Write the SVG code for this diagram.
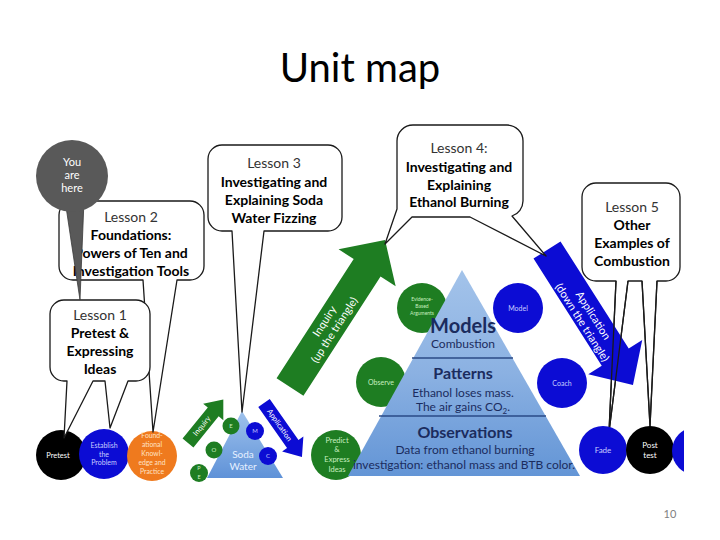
<svg xmlns="http://www.w3.org/2000/svg" width="720" height="540" viewBox="0 0 720 540">
<style>
.co{fill:#fff;stroke:#1a1a1a;stroke-width:1.3;stroke-linejoin:round}
.tl{fill:none;stroke:#1a1a1a;stroke-width:1.3;stroke-linejoin:round}
.t{font-family:Lato,"Open Sans","Liberation Sans",sans-serif;text-anchor:middle}
.ct{font-size:14px}
.b{font-weight:bold;fill:#000}
.r{fill:#333}
.gf{fill:#1e7d22}
.bf{fill:#0c0cd4}
.gt{fill:#c8f0c0}
.bt{fill:#c8ccff}
.wt{fill:#fff}
.pt{fill:#1b2c5e}
.div{stroke:#2a4a86;stroke-width:1.6}
</style>
<defs>
<linearGradient id="pyr" x1="0" y1="0" x2="0" y2="1">
<stop offset="0" stop-color="#a3c3ea"/>
<stop offset="0.5" stop-color="#8bb1e2"/>
<stop offset="1" stop-color="#6395d6"/>
</linearGradient>
<linearGradient id="soda" x1="0" y1="0" x2="0" y2="1">
<stop offset="0" stop-color="#9fc2ec"/>
<stop offset="1" stop-color="#5f92d8"/>
</linearGradient>
<clipPath id="rc"><rect x="0" y="0" width="684" height="540"/></clipPath>
</defs>
<rect width="720" height="540" fill="#fff"/>

<text class="t" x="360" y="82" font-size="40" fill="#000">Unit map</text>

<!-- lesson 5 callout sits under the application arrow -->
<g id="lesson5">
<path class="co" d="M596,183 H666 A14,14 0 0 1 680,197 V267 A14,14 0 0 1 666,281 H657 L650,426 L642,281 H628 L609,432 L616,281 H596 A14,14 0 0 1 582,267 V197 A14,14 0 0 1 596,183 Z"/>
<text class="t ct r" x="632" y="212">Lesson 5</text>
<text class="t ct b" x="632" y="230">Other</text>
<text class="t ct b" x="632" y="248">Examples of</text>
<text class="t ct b" x="632" y="266">Combustion</text>
</g>

<!-- connectors: arrows -->
<g id="connectors">
<g id="inquiry-big" transform="translate(290,387) rotate(-57.1)">
<path class="gf" d="M0,-16 H142 V-34 L175,0 L142,34 V16 H0 Z"/>
<text class="t wt" x="74" y="-3" font-size="11">Inquiry</text>
<text class="t wt" x="72" y="10" font-size="11">(up the triangle)</text>
</g>
<g id="application-big" transform="translate(547,250) rotate(57.5)">
<path class="bf" d="M0,-16 H127 V-32 L160,0 L127,32 V16 H0 Z"/>
<text class="t wt" x="80" y="0" font-size="11">Application</text>
<text class="t wt" x="80" y="13" font-size="11">(down the triangle)</text>
</g>
<g id="inquiry-small" transform="translate(188,443) rotate(-50.9)">
<path class="gf" d="M0,-7 H40 V-13 L56,0 L40,13 V7 H0 Z"/>
<text class="t wt" x="22" y="2.5" font-size="7.5">Inquiry</text>
</g>
<g id="application-small" transform="translate(264,403) rotate(54.9)">
<path class="bf" d="M0,-7 H50 V-13 L66,0 L50,13 V7 H0 Z"/>
<text class="t wt" x="27" y="2.5" font-size="7.5">Application</text>
</g>
</g>

<!-- lesson 5 tail lines drawn over the arrow -->
<path class="tl" d="M657,281 L650,426 L642,281 M628,281 L609,432 L616,281"/>

<!-- bottom-left circles -->
<g id="pretest"><circle cx="61" cy="455" r="25" fill="#000"/><text class="t wt" x="58" y="458" font-size="7.5">Pretest</text></g>
<g id="establish"><circle class="bf" cx="104" cy="454" r="25"/><text class="t bt" font-size="7" x="104"><tspan x="104" y="448">Establish</tspan><tspan x="104" y="457">the</tspan><tspan x="104" y="465">Problem</tspan></text></g>
<g id="foundational"><circle cx="152" cy="456" r="25" fill="#ef7a1e"/><text class="t" fill="#ffe2c4" font-size="6.8"><tspan x="152" y="438">Found-</tspan><tspan x="152" y="447">ational</tspan><tspan x="152" y="456">Knowl-</tspan><tspan x="152" y="465">edge and</tspan><tspan x="152" y="474">Practice</tspan></text></g>

<!-- soda water -->
<g id="soda-water">
<path d="M242,411 L283,478 L207,478 Z" fill="url(#soda)"/>
<text class="t" fill="#e6f0ff" font-size="10"><tspan x="243" y="458">Soda</tspan><tspan x="243" y="470">Water</tspan></text>
</g>
<g id="soda-E"><circle class="gf" cx="231" cy="426" r="8.5"/><text class="t gt" x="231" y="428" font-size="6">E</text></g>
<g id="soda-O"><circle class="gf" cx="214" cy="450" r="8.5"/><text class="t gt" x="214" y="452" font-size="6">O</text></g>
<g id="soda-PE"><circle class="gf" cx="199" cy="473" r="9"/><text class="t gt" font-size="5.5"><tspan x="199" y="470">P</tspan><tspan x="199" y="479">E</tspan></text></g>
<g id="soda-M"><circle class="bf" cx="255" cy="431" r="9"/><text class="t bt" x="255" y="433" font-size="6">M</text></g>
<g id="soda-C"><circle class="bf" cx="268" cy="456" r="9"/><text class="t bt" x="268" y="458" font-size="6">C</text></g>

<!-- circles around pyramid -->
<g id="evidence"><circle class="gf" cx="422" cy="308" r="25"/><text class="t gt" font-size="5"><tspan x="422" y="301">Evidence-</tspan><tspan x="422" y="308">Based</tspan><tspan x="422" y="315">Arguments</tspan></text></g>
<g id="observe"><circle class="gf" cx="381" cy="382" r="25"/><text class="t gt" x="381" y="385" font-size="7">Observe</text></g>
<g id="predict"><circle class="gf" cx="336" cy="455" r="25"/><text class="t gt" font-size="7.5"><tspan x="337" y="443">Predict</tspan><tspan x="337" y="452">&amp;</tspan><tspan x="337" y="462">Express</tspan><tspan x="337" y="472">Ideas</tspan></text></g>
<g id="model"><circle class="bf" cx="518" cy="308" r="25"/><text class="t bt" x="518" y="311" font-size="7">Model</text></g>
<g id="coach"><circle class="bf" cx="562" cy="383" r="25"/><text class="t bt" x="562" y="386" font-size="7">Coach</text></g>

<!-- pyramid -->
<g id="pyramid">
<path d="M462,270 L580,476 L348,476 Z" fill="url(#pyr)"/>
<line class="div" x1="412" y1="358" x2="513" y2="358"/>
<line class="div" x1="379" y1="416" x2="546" y2="416"/>
<text class="t pt" x="463" y="333" font-size="20" font-weight="bold">Models</text>
<text class="t pt" x="463" y="348" font-size="12">Combustion</text>
<text class="t pt" x="463" y="379" font-size="16" font-weight="bold">Patterns</text>
<text class="t pt" x="463" y="397" font-size="12">Ethanol loses mass.</text>
<text class="t pt" x="463" y="411" font-size="12">The air gains CO<tspan font-size="8" dy="3">2</tspan><tspan dy="-3">.</tspan></text>
<text class="t pt" x="465" y="438" font-size="16" font-weight="bold">Observations</text>
<text class="t pt" x="465" y="454" font-size="12">Data from ethanol burning</text>
<text class="t pt" x="464" y="469" font-size="12">investigation: ethanol mass and BTB color.</text>
</g>

<!-- bottom-right circles -->
<g id="fade"><circle class="bf" cx="603" cy="450" r="24"/><text class="t bt" x="603" y="453" font-size="8">Fade</text></g>
<g id="posttest"><circle cx="650" cy="450" r="24" fill="#000"/><text class="t wt" font-size="8"><tspan x="650" y="448">Post</tspan><tspan x="650" y="458">test</tspan></text></g>
<g id="next-circle" clip-path="url(#rc)"><circle class="bf" cx="696" cy="451" r="24"/></g>

<!-- callouts -->
<g id="lesson2">
<path class="co" d="M73,201 H190 A14,14 0 0 1 204,215 V266 A14,14 0 0 1 190,280 H177 L153,432 L143,280 H73 A14,14 0 0 1 59,266 V215 A14,14 0 0 1 73,201 Z"/>
<text class="t ct r" x="131" y="222">Lesson 2</text>
<text class="t ct b" x="131" y="240">Foundations:</text>
<text class="t ct b" x="131" y="258">Powers of Ten and</text>
<text class="t ct b" x="131" y="276">Investigation Tools</text>
</g>
<g id="lesson1">
<path class="co" d="M64,300 H136 A14,14 0 0 1 150,314 V367 A14,14 0 0 1 136,381 H128 L110,428 L105,381 H93 L64,438 L67,381 H64 A14,14 0 0 1 50,367 V314 A14,14 0 0 1 64,300 Z"/>
<text class="t ct r" x="100" y="320">Lesson 1</text>
<text class="t ct b" x="100" y="338">Pretest &amp;</text>
<text class="t ct b" x="100" y="356">Expressing</text>
<text class="t ct b" x="100" y="374">Ideas</text>
</g>
<g id="lesson3">
<path class="co" d="M222,145 H328 A14,14 0 0 1 342,159 V217 A14,14 0 0 1 328,231 H264 L242,412 L232,231 H222 A14,14 0 0 1 208,217 V159 A14,14 0 0 1 222,145 Z"/>
<text class="t ct r" x="274" y="168">Lesson 3</text>
<text class="t ct b" x="274" y="187">Investigating and</text>
<text class="t ct b" x="274" y="205">Explaining Soda</text>
<text class="t ct b" x="274" y="223">Water Fizzing</text>
</g>
<g id="lesson4">
<path class="co" d="M413,125 H507 A16,16 0 0 1 523,141 V201 A16,16 0 0 1 512,216 L546,256 L470,217 H412 L385,244 L397,209 V141 A16,16 0 0 1 413,125 Z"/>
<text class="t ct r" x="459" y="153">Lesson 4:</text>
<text class="t ct b" x="459" y="172">Investigating and</text>
<text class="t ct b" x="459" y="190">Explaining</text>
<text class="t ct b" x="459" y="207">Ethanol Burning</text>
</g>

<g id="you-are-here">
<path d="M65,200 L84,200 L80,300 Z" fill="#595959" stroke="#3a3a3a" stroke-width="0.8"/>
<circle cx="72" cy="176" r="36" fill="#595959"/>
<text class="t wt" font-family="Liberation Sans,sans-serif" font-size="11"><tspan x="72" y="166">You</tspan><tspan x="72" y="179">are</tspan><tspan x="72" y="192">here</tspan></text>
</g>

<text x="670" y="518" font-family="Lato,sans-serif" font-size="11" fill="#7f7f7f" text-anchor="middle">10</text>
</svg>
